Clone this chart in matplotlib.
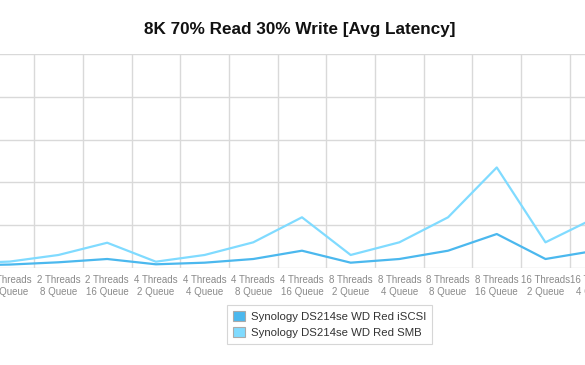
"""
8K 70/30 avg latency, iSCSI vs SMB
"""
import matplotlib
matplotlib.use("Agg")
import matplotlib.pyplot as plt
from matplotlib.patches import Patch

plt.rcParams['font.family'] = ['Liberation Sans', 'DejaVu Sans']

categories = [
    "2 Threads\n2 Queue", "2 Threads\n4 Queue", "2 Threads\n8 Queue", "2 Threads\n16 Queue",
    "4 Threads\n2 Queue", "4 Threads\n4 Queue", "4 Threads\n8 Queue", "4 Threads\n16 Queue",
    "8 Threads\n2 Queue", "8 Threads\n4 Queue", "8 Threads\n8 Queue", "8 Threads\n16 Queue",
    "16 Threads\n2 Queue", "16 Threads\n4 Queue",
]
iscsi = [0.6, 0.8, 1.33, 2.1, 0.86, 1.24, 2.1, 4.04, 1.24, 2.1, 4.04, 7.94, 2.1, 4.0]
smb = [1.05, 1.5, 3.04, 5.9, 1.47, 3.04, 6.0, 11.85, 3.04, 6.0, 11.85, 23.5, 6.0, 11.6]

names = ["Synology DS214se WD Red iSCSI", "Synology DS214se WD Red SMB"]
colors = ["#4bb8ee", "#80dbff"]

fig = plt.figure(figsize=(5.85, 3.65), dpi=100)
# the reference is a scrolled view, so the axes run past both figure edges
ax = fig.add_axes([-0.1, 0.2658, 1.2, 0.586])

x = list(range(len(categories)))
ax.plot(x, iscsi, color=colors[0], lw=1.6, zorder=3)
ax.plot(x, smb, color=colors[1], lw=1.6, zorder=3)

ax.set_yticks([0, 10, 20, 30, 40, 50])
ax.set_yticklabels([])
ax.set_xticks(x)
ax.set_xticklabels(categories, fontsize=7, color="#8a8a8a", linespacing=1.2)
ax.set_xticks([i + 0.5 for i in x], minor=True)
# ticks expand the view, so limits go after them
ax.set_xlim(-0.402, 14.013)
ax.set_ylim(0, 50)
ax.tick_params(axis='both', which='both', length=0)
ax.tick_params(axis='x', which='major', pad=5)
ax.grid(True, axis='y', color="#d9d9d9", lw=1)
ax.grid(True, axis='x', which='minor', color="#d9d9d9", lw=1)
ax.grid(False, axis='x', which='major')
for s in ax.spines.values():
    s.set_visible(False)
ax.set_axisbelow(True)

fig.suptitle("8K 70% Read 30% Write [Avg Latency]", x=0.513, y=0.94,
             fontsize=12.3, fontweight='bold', color="#111111")

handles = [Patch(facecolor=c, edgecolor="#aaaaaa", lw=0.8) for c in colors]
leg = fig.legend(handles, names, loc='center', bbox_to_anchor=(0.564, 0.111),
                 fontsize=8.2, frameon=True, fancybox=False, handlelength=1.0,
                 handleheight=1.0, handletextpad=0.6, labelspacing=0.45,
                 borderpad=0.5, labelcolor="#333333")
leg.get_frame().set_edgecolor("#cccccc")
leg.get_frame().set_linewidth(0.8)

fig.savefig("out.png", dpi=100)
